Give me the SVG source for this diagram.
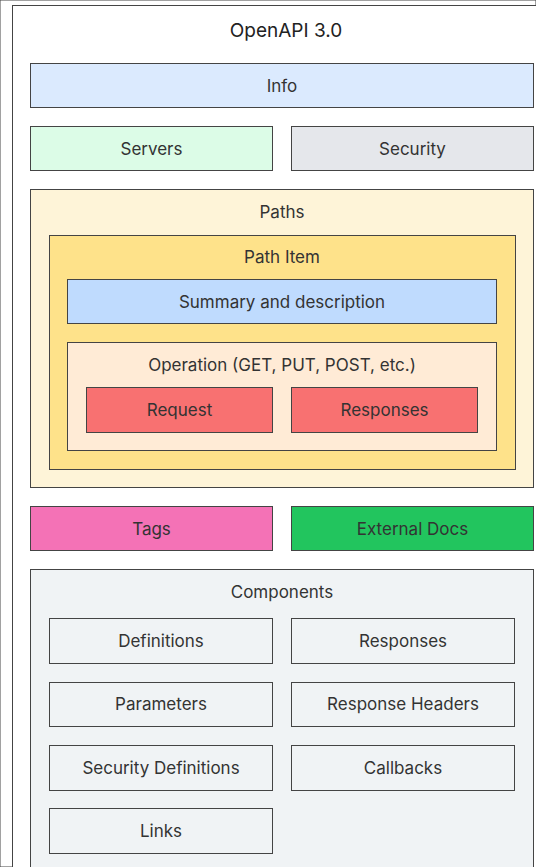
<svg xmlns="http://www.w3.org/2000/svg" width="536" height="867" viewBox="0 0 536 867">
<style>
rect{stroke:#444;stroke-width:1}
text{font-family:Inter,"Noto Sans","Liberation Sans",sans-serif;font-size:17px;fill:#333;text-anchor:middle;dominant-baseline:central}
.t{font-size:19px;fill:#222}
</style>
<rect x="0" y="0" width="536" height="867" fill="#fff" stroke="none"/>
<g id="root">
<rect x="12.5" y="5.5" width="548" height="900" fill="#fff"/>
<text class="t" x="286" y="30">OpenAPI 3.0</text>
</g>
<g id="info"><rect x="30.5" y="63.5" width="503" height="44" fill="#dbeafe"/><text x="282" y="85.5">Info</text></g>
<g id="servers"><rect x="30.5" y="126.5" width="242" height="44" fill="#dcfce7"/><text x="151.5" y="148.5">Servers</text></g>
<g id="security"><rect x="291.5" y="126.5" width="242" height="44" fill="#e5e7eb"/><text x="412.5" y="148.5">Security</text></g>
<g id="paths"><rect x="30.5" y="189.5" width="503" height="298" fill="#fef4d8"/><text x="282" y="212">Paths</text></g>
<g id="pathitem"><rect x="49.5" y="235.5" width="466" height="234" fill="#fee28a"/><text x="282" y="256.5">Path Item</text></g>
<g id="summary"><rect x="67.5" y="279.5" width="429" height="44" fill="#bfdbfe"/><text x="282" y="301.5">Summary and description</text></g>
<g id="operation"><rect x="67.5" y="342.5" width="429" height="108" fill="#ffebd6"/><text x="282" y="365">Operation (GET, PUT, POST, etc.)</text></g>
<g id="request"><rect x="86.5" y="387.5" width="186" height="45" fill="#f87171"/><text x="179.5" y="409.5">Request</text></g>
<g id="responses"><rect x="291.5" y="387.5" width="186" height="45" fill="#f87171"/><text x="384.5" y="409.5">Responses</text></g>
<g id="tags"><rect x="30.5" y="506.5" width="242" height="44" fill="#f472b6"/><text x="151.5" y="528.5">Tags</text></g>
<g id="externaldocs"><rect x="291.5" y="506.5" width="242" height="44" fill="#22c55e"/><text x="412.5" y="528.5">External Docs</text></g>
<g id="components"><rect x="30.5" y="569.5" width="503" height="340" fill="#f0f3f5"/><text x="282" y="591.5">Components</text></g>
<g id="definitions"><rect x="49.5" y="618.5" width="223" height="45" fill="#f0f3f5"/><text x="161" y="640.5">Definitions</text></g>
<g id="compresponses"><rect x="291.5" y="618.5" width="223" height="45" fill="#f0f3f5"/><text x="403" y="640.5">Responses</text></g>
<g id="parameters"><rect x="49.5" y="682.5" width="223" height="44" fill="#f0f3f5"/><text x="161" y="704">Parameters</text></g>
<g id="responseheaders"><rect x="291.5" y="682.5" width="223" height="44" fill="#f0f3f5"/><text x="403" y="704">Response Headers</text></g>
<g id="securitydefinitions"><rect x="49.5" y="745.5" width="223" height="45" fill="#f0f3f5"/><text x="161" y="767.5">Security Definitions</text></g>
<g id="callbacks"><rect x="291.5" y="745.5" width="223" height="45" fill="#f0f3f5"/><text x="403" y="767.5">Callbacks</text></g>
<g id="links"><rect x="49.5" y="808.5" width="223" height="45" fill="#f0f3f5"/><text x="161" y="830.5">Links</text></g>
<g id="connectors"></g>
</svg>
